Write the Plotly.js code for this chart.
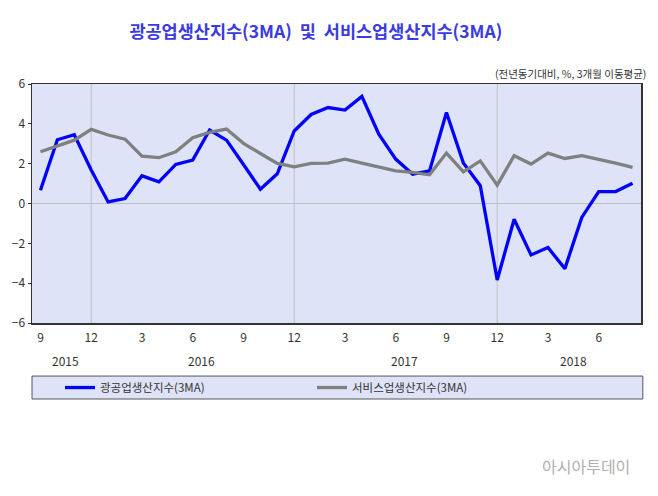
<!DOCTYPE html>
<html><head><meta charset="utf-8">
<script src="https://cdn.plot.ly/plotly-3.0.1.min.js"></script>
<style>html,body{margin:0;padding:0;background:#fff;}#chart{width:658px;height:496px;}</style>
</head><body><div id="chart"></div>
<script>
const years = [2015,2015,2015,2015,
  2016,2016,2016,2016,2016,2016,2016,2016,2016,2016,2016,2016,
  2017,2017,2017,2017,2017,2017,2017,2017,2017,2017,2017,2017,
  2018,2018,2018,2018,2018,2018,2018,2018];
const months = [9,10,11,12, 1,2,3,4,5,6,7,8,9,10,11,12, 1,2,3,4,5,6,7,8,9,10,11,12, 1,2,3,4,5,6,7,8];
const industrial = [0.67,3.2,3.45,1.68, 0.08,0.25,1.39,1.09,1.96,2.18,3.69,3.18,1.96,0.72,1.49,3.64,
  4.47,4.82,4.69,5.38,3.48,2.23,1.47,1.64,4.57,2.03,0.89,-3.84,
  -0.79,-2.58,-2.21,-3.27,-0.70,0.60,0.60,1.02];
const services = [2.6,2.9,3.18,3.72, 3.44,3.23,2.38,2.30,2.6,3.3,3.57,3.74,3.02,2.51,2.01,1.84,
  2.01,2.03,2.23,2.03,1.84,1.64,1.56,1.44,2.53,1.59,2.14,0.92,
  2.40,1.98,2.53,2.26,2.40,2.23,2.03,1.81];
const seriesNames = ['광공업생산지수(3MA)', '서비스업생산지수(3MA)'];
const titleText = '광공업생산지수(3MA)  및  서비스업생산지수(3MA)';
const noteText = '(전년동기대비, %, 3개월 이동평균)';
const watermark = '아시아투데이';

const idx = months.map((m,i)=>i);
const tickIdx = idx.filter(i => months[i] % 3 === 0);
const tickText = tickIdx.map(i => String(months[i]));
const decIdx = idx.filter(i => months[i] === 12);
const yearList = [...new Set(years)];
const yearCenters = yearList.map(y => { const ii = idx.filter(i=>years[i]===y); return (ii[0]+ii[ii.length-1])/2; });

const FONT = 'Noto Sans CJK KR, DejaVu Sans, sans-serif';
const traces = [
  {x: idx, y: industrial, type:'scatter', mode:'lines', name: seriesNames[0], line:{color:'#0000ff', width:3.3}},
  {x: idx, y: services, type:'scatter', mode:'lines', name: seriesNames[1], line:{color:'#808080', width:3.3}}
];
const shapes = decIdx.map(i => ({type:'line', xref:'x', yref:'paper', x0:i, x1:i, y0:0, y1:1, line:{color:'#c0c0c0', width:1}, layer:'below'}));
shapes.push({type:'line', xref:'paper', yref:'y', x0:0, x1:1, y0:0, y1:0, line:{color:'#c0c0c0', width:1}, layer:'below'});
// legend box
shapes.push({type:'rect', xref:'paper', yref:'paper', x0:0.0, x1:1.003, y0:-0.318, y1:-0.222, fillcolor:'#dfe3f7', line:{color:'#555555', width:1}});
const annotations = yearList.map((y,k)=>({x: yearCenters[k], y: -0.155, xref:'x', yref:'paper', yanchor:'middle', text:String(y), showarrow:false, font:{size:12, color:'#333', family:FONT}}));
annotations.push({x:1.012, y:1.046, xref:'paper', yref:'paper', xanchor:'right', yanchor:'middle', text: noteText, showarrow:false, font:{size:10.5, color:'#333', family:FONT}});
annotations.push({x:0.985, y:-0.6, xref:'paper', yref:'paper', xanchor:'right', yanchor:'middle', text: watermark, showarrow:false, font:{size:16, color:'#b0b0b0', family:FONT}});

const layout = {
  width:658, height:496,
  margin:{l:32, r:17, t:84, b:173},
  paper_bgcolor:'#ffffff', plot_bgcolor:'#dfe3f7',
  title:{text: titleText, x:0.48, xanchor:'center', y:0.935, yanchor:'middle', font:{family:FONT, size:17.5, color:'#3b3be0', weight:'bold'}},
  xaxis:{range:[-0.5, idx.length-0.5], tickvals:tickIdx, ticktext:tickText, showgrid:false, zeroline:false,
    showline:true, mirror:true, linecolor:'#333', linewidth:1.5, ticks:'', ticklabelstandoff:3, tickfont:{size:12, color:'#333', family:FONT}},
  yaxis:{range:[-6,6], dtick:2, showgrid:false, zeroline:false, showline:true, mirror:true, linecolor:'#333', linewidth:1.5,
    ticks:'outside', ticklen:3, tickcolor:'#333', tickfont:{size:12, color:'#333', family:FONT}},
  showlegend:true,
  legend:{orientation:'h', x:0.046, xanchor:'left', y:-0.27, yanchor:'middle', bgcolor:'rgba(0,0,0,0)', font:{size:11.5, color:'#333', family:FONT}, entrywidth:207, itemwidth:30},
  shapes: shapes, annotations: annotations
};
Plotly.newPlot('chart', traces, layout, {displayModeBar:false, staticPlot:true});
</script></body></html>
